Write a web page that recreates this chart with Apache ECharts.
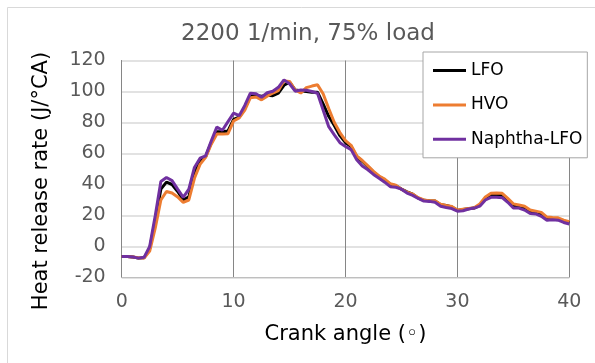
<!DOCTYPE html>
<html>
<head>
<meta charset="utf-8">
<script src="https://cdn.jsdelivr.net/npm/echarts@6/dist/echarts.min.js"></script>
<style>
html,body{margin:0;padding:0;background:#fff;}
#chart{width:595px;height:363px;}
</style>
</head>
<body>
<div id="chart"></div>
<script>
var crankAngle = [0,0.5,1,1.5,2,2.5,3,3.5,4,4.5,5,5.5,6,6.5,7,7.5,8,8.5,9,9.5,10,10.5,11,11.5,12,12.5,13,13.5,14,14.5,15,15.5,16,16.5,17,17.5,18,18.5,19,19.5,20,20.5,21,21.5,22,22.5,23,23.5,24,24.5,25,25.5,26,26.5,27,27.5,28,28.5,29,29.5,30,30.5,31,31.5,32,32.5,33,33.5,34,34.5,35,35.5,36,36.5,37,37.5,38,38.5,39,39.5,40];

var lfo = [-6.5,-6.5,-6.8,-7.5,-7.3,-1.5,17,37,41.5,40,35.5,30,32,47,55,58,67,74,74,74.5,82,83.5,89,97,97.5,97,97.5,97.3,99,104,106,101,100.5,100,99.5,99.5,92,84,78,71.5,67,64.5,58,55,51.5,48,45,43,40,39.2,37,35.3,33.8,31.2,29.8,29.5,29.3,27,26.5,25.5,23.3,23.8,24.3,24.8,26.5,31,33,33.2,33,30,26.5,26,25,22.5,22,21,18.2,18,17.8,16.3,15.3];

var hvo = [-6.5,-6.5,-6.8,-7.3,-7.5,-3,12,30,35.5,34.5,32,28.5,30,44,53,57.5,66,72.6,72.6,72.8,81,83,88,96,96.5,94.6,97,99,100.6,106.8,106.5,101,99,102.5,103.5,104.3,98.5,89,80,73.5,68.3,65.3,58.5,55.5,52,48.5,45.5,43.5,40.5,39.5,37,35,33.8,31.5,30,29.5,29.5,27.3,26.5,25.8,23.5,24,24.5,25,27.5,32,34.3,34.5,34.3,31,27.5,26.8,26,23.5,22.8,22,19,18.7,18.5,17,16];

var naphtha = [-6.5,-6.5,-6.8,-7.5,-7,0,20,42,44.5,42.5,37,31.7,37,51,57,58.5,68,77,75,80.6,86,84.4,91,98.9,98.5,96.3,99.2,100.2,102.7,107.5,105,100.2,101,100.8,100,98.9,88,77.3,72,67,64.5,62.5,56,52,49.5,46.5,44,41.5,38.6,38.2,37,34.5,33,31,29.3,29.1,28.5,26,25.2,24.5,22.8,23.1,24.2,24.8,26,30,31.7,31.8,31.5,28.5,24.8,24.8,23.5,21.3,21,19.5,17,17.2,17,15.5,14.5];

var seriesNames = ['LFO','HVO','Naphtha-LFO'];
var seriesColors = ['#000000','#ED7D31','#7030A0'];
var seriesValues = [lfo, hvo, naphtha];

function pairs(vals){
  return crankAngle.map(function(x,i){ return [x, vals[i]]; });
}

var FONT = 'DejaVu Sans';
var chart = echarts.init(document.getElementById('chart'), null, {renderer:'canvas'});
var lineIcon = 'path://M0,0 L33,0 L33,3 L0,3 Z';

chart.setOption({
  animation:false,
  backgroundColor:'#ffffff',
  graphic:[{
    type:'rect', shape:{x:7.5,y:7.5,width:620,height:420},
    style:{fill:'none',stroke:'#d9d9d9',lineWidth:1}, z:-1
  }],
  title:{
    text:'2200 1/min, 75% load',
    left:303, top:18, textAlign:'center',
    textStyle:{fontFamily:FONT,fontSize:23,fontWeight:'normal',color:'#595959'}
  },
  legend:{
    orient:'vertical', left:423, top:52,
    padding:[10,5,10,10],
    itemWidth:33, itemHeight:16, itemGap:17.4,
    icon:lineIcon,
    backgroundColor:'#ffffff', borderColor:'#a6a6a6', borderWidth:1,
    textStyle:{fontFamily:FONT,fontSize:17,color:'#000',lineHeight:16},
    data:seriesNames
  },
  grid:{left:121.7,right:25.7,top:60.5,bottom:85.5,containLabel:false},
  xAxis:{
    type:'value', min:0, max:40, interval:10,
    name:'Crank angle (◦)', nameLocation:'middle', nameGap:47,
    nameTextStyle:{fontFamily:FONT,fontSize:21,color:'#000'},
    axisLine:{show:true,onZero:false,lineStyle:{color:'#bfbfbf',width:1}},
    axisTick:{show:false},
    axisLabel:{fontFamily:FONT,fontSize:19,color:'#595959',margin:15},
    splitLine:{show:true,lineStyle:{color:'#868686',width:1}}
  },
  yAxis:{
    type:'value', min:-20, max:120, interval:20,
    name:'Heat release rate (J/°CA)', nameLocation:'middle', nameGap:70,
    nameTextStyle:{fontFamily:FONT,fontSize:21,color:'#000',padding:[0,24,0,0]},
    axisLine:{show:true,lineStyle:{color:'#868686',width:1}},
    axisTick:{show:false},
    axisLabel:{fontFamily:FONT,fontSize:19,color:'#595959',margin:16},
    splitLine:{show:true,lineStyle:{color:'#d9d9d9',width:1.5}}
  },
  series:seriesNames.map(function(n,i){
    return {
      name:n, type:'line', data:pairs(seriesValues[i]),
      symbol:'none', smooth:false,
      lineStyle:{color:seriesColors[i],width:3},
      itemStyle:{color:seriesColors[i]},
      z:2+i
    };
  })
});
</script>
</body>
</html>
